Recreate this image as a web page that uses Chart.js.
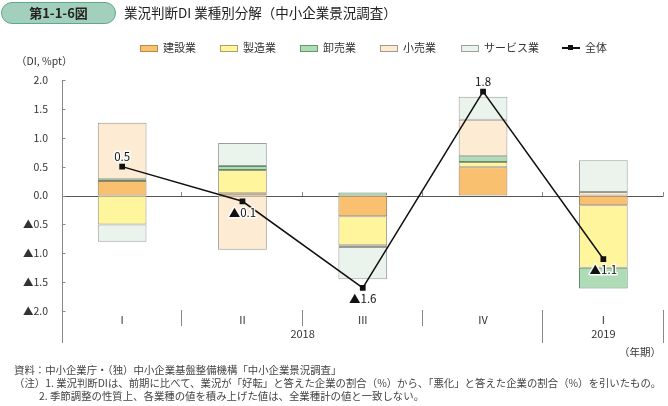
<!DOCTYPE html>
<html lang="ja">
<head>
<meta charset="UTF-8">
<title>業況判断DI 業種別分解（中小企業景況調査）</title>
<script src="https://cdn.jsdelivr.net/npm/chart.js"></script>
<style>
  body { margin: 0; width: 668px; height: 406px; position: relative; overflow: hidden; background: #fff;
         font-family: "Noto Sans CJK JP", "Noto Sans", sans-serif; color: #333; }
  .fig-no { position: absolute; left: 1px; top: 2px; width: 113px; height: 20px; border: 1px solid #5fa888;
            border-radius: 11px; background: #a3d0bd; font-size: 13px; font-weight: bold;
            line-height: 20px; text-align: center; color: #222; }
  .title { position: absolute; left: 124px; top: 2px; font-size: 13.5px; line-height: 21px; color: #222; }
  .legend { position: absolute; top: 40px; left: 0; height: 14px; font-size: 11px; }
  .legend .item { position: absolute; top: 0; white-space: nowrap; line-height: 14px; }
  .legend .box { display: inline-block; width: 16px; height: 5px; border: 1px solid; vertical-align: middle;
                 margin-right: 5px; position: relative; top: -1px; }
  .legend .ln { display: inline-block; width: 18px; height: 1.5px; background: #111; vertical-align: middle;
                margin-right: 5px; position: relative; top: -1px; }
  .legend .ln::after { content: ""; position: absolute; left: 6px; top: -2px; width: 5px; height: 5px; background: #111; }
  .unit { position: absolute; left: 16px; top: 53px; font-size: 10.5px; }
  .period { position: absolute; right: 7px; top: 344px; font-size: 10.5px; }
  .notes { position: absolute; left: 14px; top: 363px; font-size: 10.4px; line-height: 13px; color: #444;
           white-space: nowrap; }
  .notes .ind { padding-left: 25px; }
  #wrap { position: absolute; left: 0; top: 0; width: 668px; height: 406px; }
</style>
</head>
<body>
<div id="wrap"><canvas id="grafico" width="668" height="406"></canvas></div>

<div class="fig-no">第1-1-6図</div>
<div class="title">業況判断DI 業種別分解（中小企業景況調査）</div>

<div class="legend">
  <span class="item" style="left:140px"><span class="box" style="background:#f9c070;border-color:#b98a48"></span>建設業</span>
  <span class="item" style="left:220px"><span class="box" style="background:#fff59c;border-color:#a9a265"></span>製造業</span>
  <span class="item" style="left:300px"><span class="box" style="background:#b0dbb7;border-color:#5f9c6c"></span>卸売業</span>
  <span class="item" style="left:380px"><span class="box" style="background:#fdebd4;border-color:#a39a8c"></span>小売業</span>
  <span class="item" style="left:461px"><span class="box" style="background:#eaf3ec;border-color:#98a39a"></span>サービス業</span>
  <span class="item" style="left:562px"><span class="ln"></span>全体</span>
</div>

<div class="unit">（DI, %pt）</div>
<div class="period">（年期）</div>

<div class="notes">
  <div>資料：中小企業庁・（独）中小企業基盤整備機構「中小企業景況調査」</div>
  <div>（注）1. 業況判断DIは、前期に比べて、業況が「好転」と答えた企業の割合（%）から、「悪化」と答えた企業の割合（%）を引いたもの。</div>
  <div class="ind">2. 季節調整の性質上、各業種の値を積み上げた値は、全業種計の値と一致しない。</div>
</div>

<script>
  // 四半期
  const quarters = ['I', 'II', 'III', 'IV', 'I'];
  const years = [['2018', 0, 3], ['2019', 4, 4]];

  // 業種別寄与 (%pt)
  const kensetsu = [0.25, 0.04, -0.36, 0.49, -0.17];
  const seizo    = [-0.50, 0.40, -0.50, 0.09, -1.08];
  const oroshi   = [0.03, 0.07, 0.05, 0.10, -0.36];
  const kouri    = [0.98, -0.94, -0.03, 0.63, 0.06];
  const service  = [-0.30, 0.40, -0.56, 0.40, 0.55];

  // 全体
  const zentai = [0.5, -0.1, -1.6, 1.8, -1.1];

  const yTicks = [2.0, 1.5, 1.0, 0.5, 0.0, -0.5, -1.0, -1.5, -2.0];

  function fmt(v) {
    return v < 0 ? '▲' + Math.abs(v).toFixed(1) : v.toFixed(1);
  }

  function barSet(label, data, fill, border) {
    return {
      type: 'bar', label: label, data: data, backgroundColor: fill, borderColor: border,
      borderWidth: 1, borderSkipped: false, stack: 'gyoshu', order: 1,
      barPercentage: 0.405, categoryPercentage: 1
    };
  }

  const AXIS_BOTTOM = 343;

  // 軸線・区切り線・年ラベル
  const decoracao = {
    id: 'decoracao',
    beforeDatasetsDraw(chart) {
      const { ctx, chartArea: a, scales: { y } } = chart;
      const y0 = Math.round(y.getPixelForValue(0)) + 0.5;
      ctx.save();
      ctx.strokeStyle = '#555';
      ctx.lineWidth = 1;
      ctx.beginPath();
      ctx.moveTo(a.left, y0);
      ctx.lineTo(a.right, y0);
      ctx.stroke();
      ctx.restore();
    },
    afterDraw(chart) {
      const { ctx, chartArea: a, scales: { x, y } } = chart;
      const y0 = Math.round(y.getPixelForValue(0));
      ctx.save();
      ctx.strokeStyle = '#888';
      ctx.lineWidth = 1;

      const seg = (x1, y1, x2, y2) => {
        ctx.beginPath();
        ctx.moveTo(x1, y1);
        ctx.lineTo(x2, y2);
        ctx.stroke();
      };

      const lx = Math.round(a.left) + 0.5;
      seg(lx, a.top, lx, AXIS_BOTTOM);
      yTicks.forEach(v => {
        const py = Math.round(y.getPixelForValue(v)) + 0.5;
        seg(lx, py, lx + 3, py);
      });

      const half = (x.getPixelForValue(1) - x.getPixelForValue(0)) / 2;
      for (let i = 0; i < quarters.length; i++) {
        const xb = Math.round(x.getPixelForValue(i) + half) - 0.5;
        const longo = i === 3 || i === quarters.length - 1;
        seg(xb, y0 - 4, xb, y0);
        seg(xb, a.bottom - 1, xb, longo ? AXIS_BOTTOM : 326);
      }

      ctx.fillStyle = '#333';
      ctx.font = '11px "Noto Sans CJK JP", sans-serif';
      ctx.textAlign = 'center';
      ctx.textBaseline = 'middle';
      years.forEach(([txt, i0, i1]) => {
        const cx = (x.getPixelForValue(i0) + x.getPixelForValue(i1)) / 2;
        ctx.fillText(txt, cx, 334);
      });
      ctx.restore();
    }
  };

  // 全体の値ラベル
  const rotulos = {
    id: 'rotulos',
    afterDatasetsDraw(chart) {
      const { ctx } = chart;
      const meta = chart.getDatasetMeta(0);
      ctx.save();
      ctx.font = '11.5px "Noto Sans CJK JP", sans-serif';
      ctx.textAlign = 'center';
      ctx.textBaseline = 'middle';
      ctx.lineJoin = 'round';
      meta.data.forEach((pt, i) => {
        const v = zentai[i];
        const ty = v >= 0 ? pt.y - 10 : pt.y + 11;
        ctx.strokeStyle = 'rgba(255,255,255,0.9)';
        ctx.lineWidth = 3;
        ctx.strokeText(fmt(v), pt.x, ty);
        ctx.fillStyle = '#111';
        ctx.fillText(fmt(v), pt.x, ty);
      });
      ctx.restore();
    }
  };

  const ctx = document.getElementById('grafico').getContext('2d');
  const chart = new Chart(ctx, {
    data: {
      labels: quarters,
      datasets: [
        {
          type: 'line', label: '全体', data: zentai, stack: 'zentai', order: 0,
          borderColor: '#111', borderWidth: 1.5, backgroundColor: '#111',
          pointStyle: 'rect', pointRadius: 3, pointHoverRadius: 3, tension: 0
        },
        barSet('建設業', kensetsu, '#f9c070', '#a08060'),
        barSet('製造業', seizo, '#fff59c', '#9a9680'),
        barSet('卸売業', oroshi, '#b0dbb7', '#5f8f6a'),
        barSet('小売業', kouri, '#fdebd4', '#9a968c'),
        barSet('サービス業', service, '#eaf3ec', '#9a9f9a')
      ]
    },
    options: {
      responsive: false,
      animation: false,
      devicePixelRatio: 1,
      layout: { padding: { top: 80, right: 0, bottom: 75, left: 0 } },
      plugins: { legend: { display: false }, tooltip: { enabled: false } },
      scales: {
        x: {
          stacked: true,
          offset: true,
          grid: { display: false, drawTicks: false },
          border: { display: false },
          ticks: { color: '#333', padding: 2, font: { size: 11, family: '"Noto Sans CJK JP", sans-serif' } },
          afterFit: s => { s.height = 20; }
        },
        y: {
          stacked: true,
          min: -2, max: 2,
          grid: { display: false },
          border: { display: false },
          afterBuildTicks: s => { s.ticks = yTicks.map(v => ({ value: v })); },
          ticks: {
            color: '#333', padding: 6,
            font: { size: 10.5, family: '"Noto Sans CJK JP", sans-serif' },
            callback: v => fmt(v)
          },
          afterFit: s => { s.width = 62; }
        }
      }
    },
    plugins: [decoracao, rotulos]
  });
</script>
</body>
</html>
